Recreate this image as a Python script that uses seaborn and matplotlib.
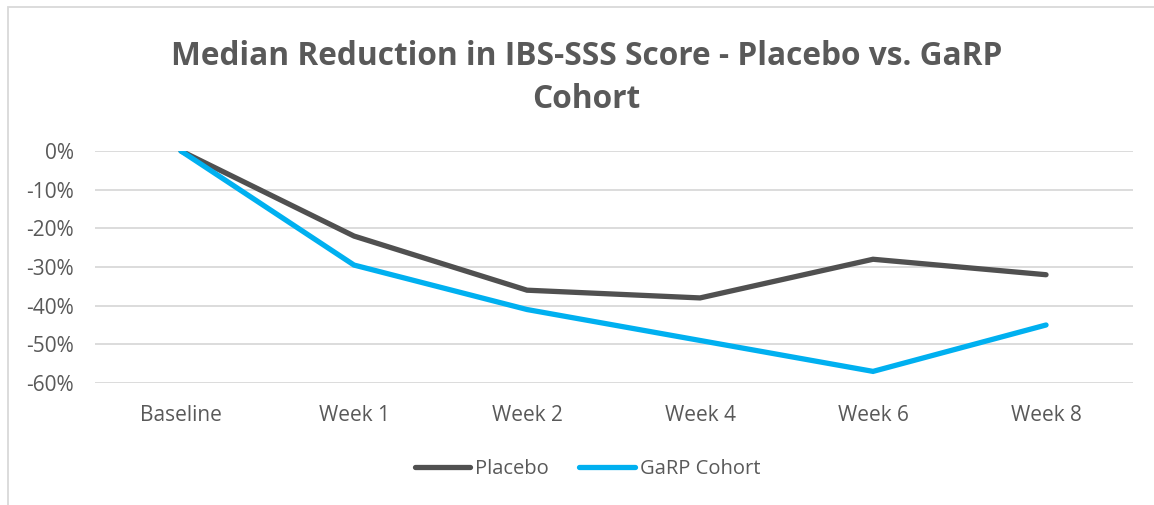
import matplotlib.pyplot as plt
import matplotlib.ticker as mticker
import pandas as pd
import seaborn as sns

visits = ["Baseline", "Week 1", "Week 2", "Week 4", "Week 6", "Week 8"]
placebo = [0, -22, -36, -38, -28, -32]
garp = [0, -29.5, -41, -49, -57, -45]

df = pd.DataFrame({
    "visit": visits * 2,
    "reduction": placebo + garp,
    "group": ["Placebo"] * len(visits) + ["GaRP Cohort"] * len(visits),
})

sns.set_style("white")
plt.rcParams["font.family"] = ["Open Sans", "DejaVu Sans"]

fig = plt.figure(figsize=(11.54, 5.05), dpi=100)
ax = fig.add_axes([0.0819, 0.2416, 0.8995, 0.4594])

palette = {"Placebo": "#505050", "GaRP Cohort": "#00B0F0"}
sns.lineplot(data=df, x="visit", y="reduction", hue="group", palette=palette,
             linewidth=3.8, sort=False, ax=ax)
for ln in ax.lines:
    ln.set_solid_capstyle("round")
    ln.set_solid_joinstyle("miter")

ax.set_xlim(-0.5, len(visits) - 0.5)
ax.set_ylim(-60, 0)
ax.set_yticks(range(-60, 1, 10))
ax.yaxis.set_major_formatter(mticker.FuncFormatter(lambda v, p: f"{v:.0f}%"))
ax.grid(axis="y", color="#D9D9D9", linewidth=1.3)
ax.set_axisbelow(True)
for s in ax.spines.values():
    s.set_visible(False)
ax.tick_params(axis="both", length=0, labelsize=15, labelcolor="#595959")
ax.tick_params(axis="x", pad=16)
ax.tick_params(axis="y", pad=15)
ax.set_xlabel("")
ax.set_ylabel("")

fig.text(0.508, 0.845, "Median Reduction in IBS-SSS Score - Placebo vs. GaRP\nCohort",
         ha="center", va="center", fontsize=22.8, fontweight="bold",
         color="#595959", linespacing=1.4)

leg = ax.legend(loc="center", bbox_to_anchor=(0.475, -0.37), ncol=2, frameon=False,
                fontsize=14.5, handlelength=2.75, handletextpad=0.25, columnspacing=1.5)
for t in leg.get_texts():
    t.set_color("#595959")

# light chart border like the original frame
fig.add_artist(plt.Rectangle((0.007, -0.05), 1.1, 1.036, transform=fig.transFigure,
                             fill=False, edgecolor="#D9D9D9", linewidth=1.3))

fig.savefig("out.png", dpi=100, facecolor="white")
